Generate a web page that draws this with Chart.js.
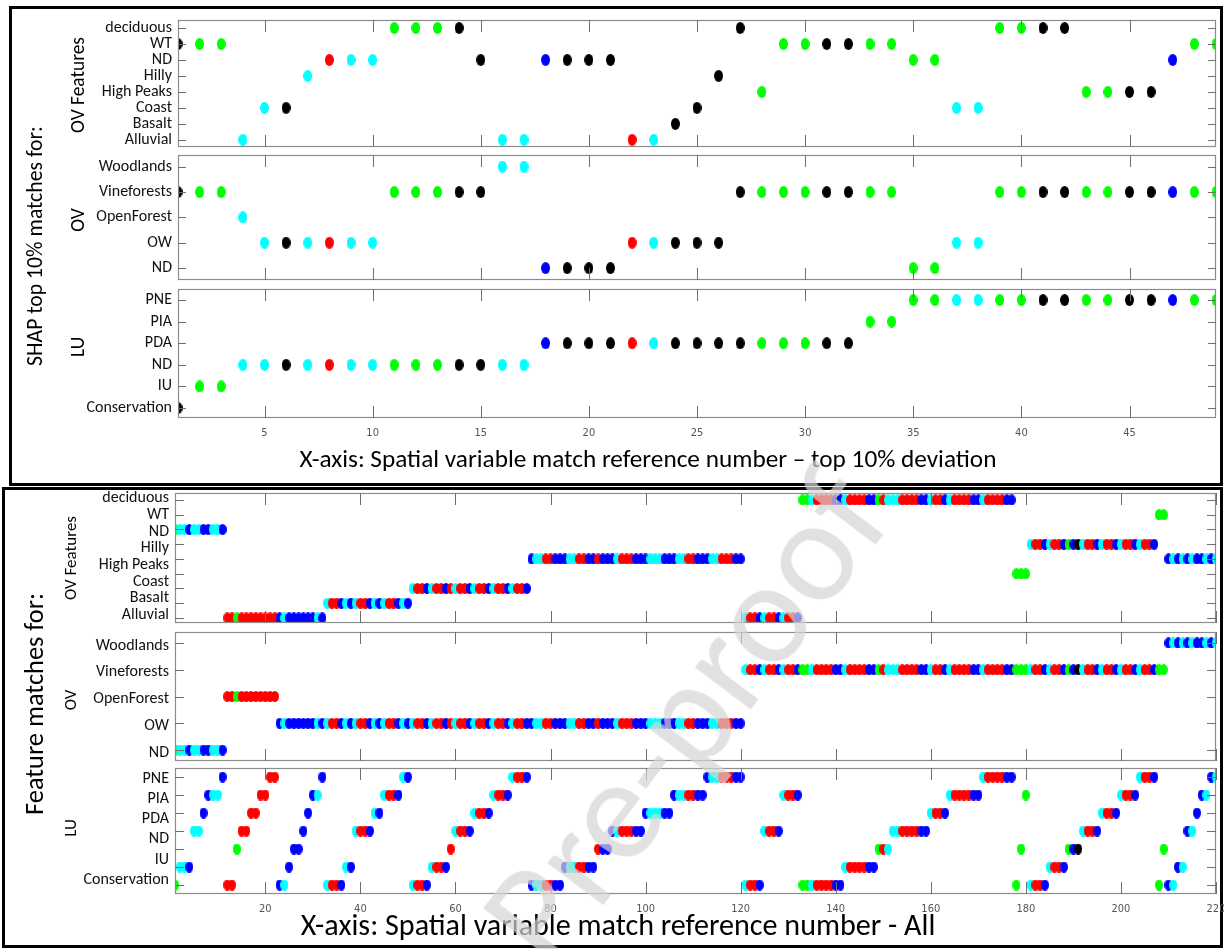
<!DOCTYPE html>
<html><head><meta charset="utf-8">
<script src="https://cdn.jsdelivr.net/npm/chart.js@4.4.0/dist/chart.umd.min.js"></script>
<style>
html,body{margin:0;padding:0;background:#fff;}
#root{position:relative;width:1224px;height:949px;overflow:hidden;background:#fff;}
.pbox{position:absolute;border:3px solid #000;box-sizing:border-box;}
</style></head>
<body><div id="root"></div>
<script>
// ---------------- DATA ----------------
const colorCodes = {k:'#000000', g:'#00ff00', c:'#00ffff', b:'#0000ff', r:'#ff0000'};

// Top panel: SHAP top 10% matches (x = match reference number 1..49)
const topOVFLabels = ["Alluvial","Basalt","Coast","High Peaks","Hilly","ND","WT","deciduous"];
const topOVLabels  = ["ND","OW","OpenForest","Vineforests","Woodlands"];
const topLULabels  = ["Conservation","IU","ND","PDA","PIA","PNE"];
const topXTicks = [5,10,15,20,25,30,35,40,45];

const topOVF = ["WT","WT","WT","Alluvial","Coast","Coast","Hilly","ND","ND","ND",
 "deciduous","deciduous","deciduous","deciduous","ND","Alluvial","Alluvial","ND","ND","ND",
 "ND","Alluvial","Alluvial","Basalt","Coast","Hilly","deciduous","High Peaks","WT","WT",
 "WT","WT","WT","WT","ND","ND","Coast","Coast","deciduous","deciduous",
 "deciduous","deciduous","High Peaks","High Peaks","High Peaks","High Peaks","ND","WT","WT"];
const topOV = ["Vineforests","Vineforests","Vineforests","OpenForest","OW","OW","OW","OW","OW","OW",
 "Vineforests","Vineforests","Vineforests","Vineforests","Vineforests","Woodlands","Woodlands","ND","ND","ND",
 "ND","OW","OW","OW","OW","OW","Vineforests","Vineforests","Vineforests","Vineforests",
 "Vineforests","Vineforests","Vineforests","Vineforests","ND","ND","OW","OW","Vineforests","Vineforests",
 "Vineforests","Vineforests","Vineforests","Vineforests","Vineforests","Vineforests","Vineforests","Vineforests","Vineforests"];
const topLU = ["Conservation","IU","IU","ND","ND","ND","ND","ND","ND","ND",
 "ND","ND","ND","ND","ND","ND","ND","PDA","PDA","PDA",
 "PDA","PDA","PDA","PDA","PDA","PDA","PDA","PDA","PDA","PDA",
 "PDA","PDA","PIA","PIA","PNE","PNE","PNE","PNE","PNE","PNE",
 "PNE","PNE","PNE","PNE","PNE","PNE","PNE","PNE","PNE"];
const topColors = ["k","g","g","c","c","k","c","r","c","c",
 "g","g","g","k","k","c","c","b","k","k",
 "k","r","c","k","k","k","k","g","g","g",
 "k","k","g","g","g","g","c","c","g","g",
 "k","k","g","g","k","k","b","g","g"];

// Bottom panel: all feature matches (x = match reference number 1..220), row index from bottom
const botOVFLabels = ["Alluvial","Basalt","Coast","High Peaks","Hilly","ND","WT","deciduous"];
const botOVFRows = 9;
const botOVLabels  = ["ND","OW","OpenForest","Vineforests","Woodlands"];
const botOVRows = 5;
const botLULabels  = ["Conservation","IU","ND","PDA","PIA","PNE"];
const botLURows = 7;
const botXTicks = [20,40,60,80,100,120,140,160,180,200,220];

const botOVF = [6,6,6,6,6,6,6,6,6,6, 6,0,0,0,0,0,0,0,0,0, 0,0,0,0,0,0,0,0,0,0,
 0,0,1,1,1,1,1,1,1,1, 1,1,1,1,1,1,1,1,1,1, 2,2,2,2,2,2,2,2,2,2,
 2,2,2,2,2,2,2,2,2,2, 2,2,2,2,2,4,4,4,4,4, 4,4,4,4,4,4,4,4,4,4,
 4,4,4,4,4,4,4,4,4,4, 4,4,4,4,4,4,4,4,4,4, 4,4,4,4,4,4,4,4,4,4,
 0,0,0,0,0,0,0,0,0,0, 0,0,8,8,8,8,8,8,8,8, 8,8,8,8,8,8,8,8,8,8,
 8,8,8,8,8,8,8,8,8,8, 8,8,8,8,8,8,8,8,8,8, 8,8,8,8,8,8,8,3,3,3,
 5,5,5,5,5,5,5,5,5,5, 5,5,5,5,5,5,5,5,5,5, 5,5,5,5,5,5,5,7,7,4,
 4,4,4,4,4,4,4,4,4,4];
const botOV = [0,0,0,0,0,0,0,0,0,0, 0,2,2,2,2,2,2,2,2,2, 2,2,1,1,1,1,1,1,1,1,
 1,1,1,1,1,1,1,1,1,1, 1,1,1,1,1,1,1,1,1,1, 1,1,1,1,1,1,1,1,1,1,
 1,1,1,1,1,1,1,1,1,1, 1,1,1,1,1,1,1,1,1,1, 1,1,1,1,1,1,1,1,1,1,
 1,1,1,1,1,1,1,1,1,1, 1,1,1,1,1,1,1,1,1,1, 1,1,1,1,1,1,1,1,1,1,
 3,3,3,3,3,3,3,3,3,3, 3,3,3,3,3,3,3,3,3,3, 3,3,3,3,3,3,3,3,3,3,
 3,3,3,3,3,3,3,3,3,3, 3,3,3,3,3,3,3,3,3,3, 3,3,3,3,3,3,3,3,3,3,
 3,3,3,3,3,3,3,3,3,3, 3,3,3,3,3,3,3,3,3,3, 3,3,3,3,3,3,3,3,3,4,
 4,4,4,4,4,4,4,4,4,4];
const botLU = [0,1,1,1,3,3,4,5,5,5, 6,0,0,2,3,3,4,4,5,5, 6,6,0,0,1,2,2,3,4,5,
 5,6,0,0,0,0,1,1,3,3, 3,3,4,4,5,5,5,5,6,6, 0,0,0,0,1,1,1,1,2,3,
 3,3,3,4,4,4,4,5,5,5, 5,6,6,6,6,0,0,0,0,0, 0,0,1,1,1,1,1,1,1,2,
 2,2,3,3,3,3,3,3,3,4, 4,4,4,4,4,5,5,5,5,5, 5,5,6,6,6,6,6,6,6,6,
 0,0,0,0,3,3,3,3,5,5, 5,5,0,0,0,0,0,0,0,0, 0,1,1,1,1,1,1,1,2,2,
 2,3,3,3,3,3,3,3,3,4, 4,4,4,5,5,5,5,5,5,5, 6,6,6,6,6,6,6,0,2,5,
 0,0,0,0,1,1,1,1,2,2, 2,3,3,3,3,4,4,4,4,5, 5,5,5,6,6,6,6,0,2,0,
 0,1,1,3,3,4,5,5,6,6];
const botColors = ["g","c","c","b","c","c","b","b","c","c", "b","r","r","g","r","r","r","r","r","r",
 "r","r","b","c","b","b","b","b","b","b", "c","b","c","r","r","b","c","b","c","r",
 "r","b","c","b","c","r","r","b","c","b", "c","r","r","b","c","r","r","b","r","c",
 "r","r","b","c","r","r","b","c","r","r", "b","c","r","r","b","b","c","c","r","r",
 "b","b","b","c","c","r","r","b","b","r", "b","b","b","c","r","r","r","b","b","b",
 "c","c","c","b","b","b","c","c","r","r", "b","b","b","c","c","r","r","r","b","b",
 "c","r","r","b","c","r","r","b","c","r", "r","b","g","g","c","r","r","r","r","b",
 "b","c","r","r","r","r","b","b","g","r", "c","c","c","r","r","r","r","b","b","c",
 "r","r","b","c","r","r","r","r","b","b", "c","r","r","r","r","b","b","g","g","g",
 "c","r","r","b","c","r","r","b","g","b", "k","c","r","r","b","c","r","r","b","c",
 "r","r","b","c","r","r","b","g","g","b", "c","b","c","b","c","b","b","c","b","c"];

// ---------------- RENDER ----------------
const root = document.getElementById('root');
const LABEL_FONT = "Carlito, Lato, 'Open Sans', sans-serif";
const TICK_FONT = "'Liberation Sans Narrow', 'DejaVu Sans Condensed', 'Liberation Sans', sans-serif";

function dot(color, w, h){
  const c = document.createElement('canvas'); c.width = w; c.height = h;
  const g = c.getContext('2d'); g.fillStyle = color;
  g.beginPath(); g.ellipse(w/2, h/2, w/2, h/2, 0, 0, Math.PI*2); g.fill();
  return c;
}
const imgsTop = {}, imgsBot = {};
for (const k in colorCodes){ imgsTop[k] = dot(colorCodes[k], 9, 12); imgsBot[k] = dot(colorCodes[k], 8, 11); }

const boxPlugin = {
  id: 'box',
  afterDatasetsDraw(chart, args, o){
    const {ctx, chartArea:a} = chart; const x = chart.scales.x, y = chart.scales.y;
    ctx.save();
    ctx.strokeStyle = '#8c8c8c'; ctx.lineWidth = 1.2;
    ctx.strokeRect(a.left+0.5, a.top+0.5, a.right-a.left-1, a.bottom-a.top-1);
    ctx.strokeStyle = '#6e6e6e'; ctx.lineWidth = 1;
    ctx.beginPath();
    for (const v of o.xt){ const px = Math.round(x.getPixelForValue(v))+0.5;
      ctx.moveTo(px, a.top); ctx.lineTo(px, a.top+o.xl); ctx.moveTo(px, a.bottom); ctx.lineTo(px, a.bottom-o.xl); }
    for (const v of o.yt){ const py = Math.round(y.getPixelForValue(v))+0.5;
      ctx.moveTo(a.left, py); ctx.lineTo(a.left+o.yl, py); ctx.moveTo(a.right, py); ctx.lineTo(a.right-o.yl, py); }
    ctx.stroke(); ctx.restore();
  }
};

function makeSub(c){
  const padT = 16, padB = c.showX ? 0 : 16, xH = c.showX ? 34 : 0;
  const W = c.canvasW, H = padT + (c.bottom - c.top) + padB + xH;
  const cv = document.createElement('canvas');
  cv.width = W; cv.height = H;
  cv.style.cssText = `position:absolute;left:0;top:${c.top-padT}px;width:${W}px;height:${H}px;`;
  root.appendChild(cv);
  const pts = c.rows.map((r, i) => ({x: i + 1, y: r}));
  new Chart(cv, {
    type: 'scatter',
    data: {datasets: [{data: pts, clip: 0, pointRadius: 5, pointHoverRadius: 5,
      pointStyle: ctx => c.imgs[c.colors[ctx.dataIndex]]}]},
    options: {
      responsive: false, animation: false, events: [],
      layout: {padding: {left: 0, right: W - c.right, top: padT, bottom: padB}},
      plugins: {legend: {display: false}, tooltip: {enabled: false},
        box: {xt: c.xTicks, yt: c.yRowVals, xl: c.xl, yl: c.yl}},
      scales: {
        x: {type: 'linear', min: c.xmin, max: c.xmax, display: c.showX,
          grid: {display: false, drawTicks: false}, border: {display: false},
          ticks: {autoSkip: false, maxRotation: 0, minRotation: 0, padding: 9, color: '#555',
            font: {family: TICK_FONT, size: 11}},
          afterBuildTicks: s => { s.ticks = c.xTicks.map(v => ({value: v})); },
          afterFit: s => { s.height = xH; s.paddingLeft = 0; s.paddingRight = 0; }},
        y: {type: 'linear', min: c.ymin, max: c.ymax,
          grid: {display: false, drawTicks: false}, border: {display: false},
          ticks: {autoSkip: false, padding: 6, color: '#111', font: {family: LABEL_FONT, size: 16},
            callback: (v, i) => c.yLabels[i]},
          afterBuildTicks: s => { s.ticks = c.yLabelPos.map(v => ({value: v})); },
          afterFit: s => { s.width = c.left; s.paddingTop = 0; s.paddingBottom = 0; }}
      }
    },
    plugins: [boxPlugin]
  });
}

function idx(labels, arr){ return arr.map(v => labels.indexOf(v)); }
function seq(n){ const a = []; for (let i = 0; i < n; i++) a.push(i); return a; }

// panel frames
function frame(l, t, r, b){ const d = document.createElement('div'); d.className = 'pbox';
  d.style.cssText += `left:${l}px;top:${t}px;width:${r-l}px;height:${b-t}px;`; root.appendChild(d); }
frame(9, 6, 1223, 486);
frame(2, 487, 1223, 948);

// top panel subplots
const T = {left: 178, right: 1216, canvasW: 1224, xmin: 1, xmax: 49, xTicks: topXTicks, imgs: imgsTop, colors: topColors, xl: 12, yl: 8};
makeSub(Object.assign({}, T, {top: 20, bottom: 147, ymin: -0.45, ymax: 7.5, rows: idx(topOVFLabels, topOVF),
  yLabels: topOVFLabels, yLabelPos: seq(topOVFLabels.length), yRowVals: seq(topOVFLabels.length), showX: false}));
makeSub(Object.assign({}, T, {top: 155, bottom: 280, ymin: -0.47, ymax: 4.46, rows: idx(topOVLabels, topOV),
  yLabels: topOVLabels, yLabelPos: seq(topOVLabels.length), yRowVals: seq(topOVLabels.length), showX: false}));
makeSub(Object.assign({}, T, {top: 289, bottom: 418, ymin: -0.46, ymax: 5.51, rows: idx(topLULabels, topLU),
  yLabels: topLULabels, yLabelPos: seq(topLULabels.length), yRowVals: seq(topLULabels.length), showX: true}));

// bottom panel subplots (more rows than labels: labels spread evenly over the rows)
function spread(n, lo, hi){ const a = []; for (let i = 0; i < n; i++) a.push(lo + (hi - lo) * i / (n - 1)); return a; }
const B = {left: 175, right: 1216, canvasW: 1244, xmin: 1, xmax: 220, xTicks: botXTicks, imgs: imgsBot, colors: botColors, xl: 12, yl: 9};
makeSub(Object.assign({}, B, {top: 493, bottom: 623, ymin: -0.34, ymax: 8.47, rows: botOVF,
  yLabels: botOVFLabels, yLabelPos: spread(botOVFLabels.length, 0.2, 8.1), yRowVals: seq(botOVFRows), showX: false}));
makeSub(Object.assign({}, B, {top: 632, bottom: 761, ymin: -0.41, ymax: 4.41, rows: botOV,
  yLabels: botOVLabels, yLabelPos: seq(botOVRows).map(v => v - 0.1), yRowVals: seq(botOVRows), showX: false}));
makeSub(Object.assign({}, B, {top: 768, bottom: 894, ymin: -0.5, ymax: 6.5, rows: botLU,
  yLabels: botLULabels, yLabelPos: spread(botLULabels.length, 0.28, 5.9), yRowVals: seq(botLURows), showX: true}));

// texts
const mctx = document.createElement('canvas').getContext('2d');
function addText(txt, cx, cy, len, rot, size, color){
  let fs = size;
  if (len){ mctx.font = `100px ${LABEL_FONT}`; fs = 100 * len / mctx.measureText(txt).width; }
  const d = document.createElement('div'); d.textContent = txt;
  d.style.cssText = `position:absolute;left:${cx}px;top:${cy}px;font-family:${LABEL_FONT};font-size:${fs}px;line-height:1;white-space:nowrap;color:${color||'#000'};transform:translate(-50%,-50%) rotate(${rot}deg);`;
  root.appendChild(d); return fs;
}
addText("X-axis: Spatial variable match reference number \u2013 top 10% deviation", 648, 459, 697, 0);
addText("SHAP top 10% matches for:", 35, 246, 240, -90);
const fsT = addText("OV Features", 78, 85, 96, -90);
addText("OV", 78, 220, 0, -90, fsT);
addText("LU", 78, 347, 0, -90, fsT);

addText("X-axis: Spatial variable match reference number - All", 618, 925, 635, 0);
addText("Feature matches for:", 34, 704, 222, -90);
const fsB = addText("OV Features", 70, 558, 84, -90);
addText("OV", 70, 700, 0, -90, fsB);
addText("LU", 70, 828, 0, -90, fsB);

// watermark
addText("Pre-proof", 684, 716, 570, -53, 0, 'rgba(212,212,212,0.7)');
</script></body></html>
